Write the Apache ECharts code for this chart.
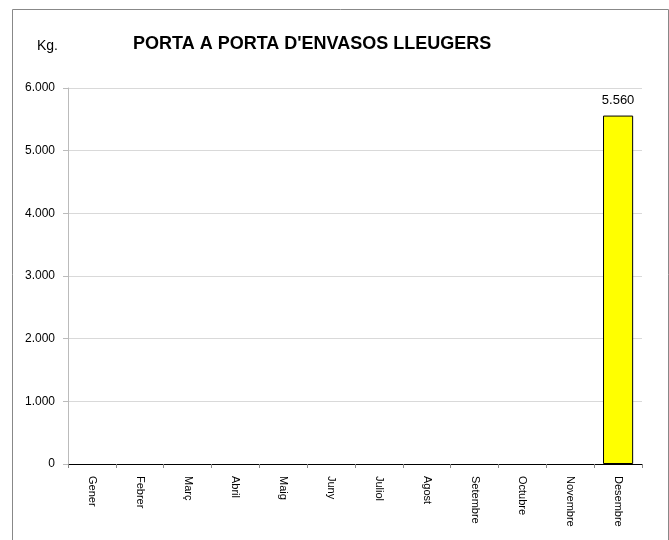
<!DOCTYPE html>
<html><head><meta charset="utf-8">
<script src="https://cdn.jsdelivr.net/npm/echarts@6/dist/echarts.min.js"></script>
<style>html,body{margin:0;padding:0;background:#fff}#c{width:669px;height:540px}</style>
</head><body><div id="c"></div>
<script>
const categories = ['Gener','Febrer','Març','Abril','Maig','Juny','Juliol','Agost','Setembre','Octubre','Novembre','Desembre'];
const values = [0,0,0,0,0,0,0,0,0,0,0,5560];
const yTicks = [0,1000,2000,3000,4000,5000,6000];
const fmt = v => String(v).replace(/\B(?=(\d{3})+(?!\d))/g, '.');
const chart = echarts.init(document.getElementById('c'));
chart.setOption({
  animation:false,
  graphic:[
    {type:'polyline', shape:{points:[[12.5,540],[12.5,9.5],[668.5,9.5],[668.5,540]]}, style:{stroke:'#888',fill:null,lineWidth:1}},
    {type:'text', left:37, top:39, style:{text:'Kg.', font:'14px "Liberation Sans", Arial', fill:'#000'}},
    {type:'text', left:133, top:35, style:{text:"PORTA A PORTA D'ENVASOS LLEUGERS", font:'bold 18px "Liberation Sans", Arial', fill:'#000'}}
  ],
  grid:{left:68, right:27, top:88, bottom:76},
  xAxis:{type:'category', data:categories,
    axisLine:{lineStyle:{color:'#000'}},
    axisTick:{show:true, length:4, lineStyle:{color:'#888'}},
    axisLabel:{rotate:-90, fontSize:11, fontFamily:'Arial', color:'#000', margin:12}},
  yAxis:{type:'value', min:yTicks[0], max:yTicks[yTicks.length-1], interval:1000,
    axisLine:{show:true, lineStyle:{color:'#bbb'}},
    axisTick:{show:true, length:5, lineStyle:{color:'#bbb'}},
    splitLine:{lineStyle:{color:'#d9d9d9'}},
    axisLabel:{fontSize:12, fontFamily:'Arial', color:'#000', margin:13, formatter:fmt}},
  series:[{type:'bar', barWidth:'63%',
    data: values.map(v => ({value:v, itemStyle:{borderWidth: v > 0 ? 1 : 0}})),
    itemStyle:{color:'#ffff00', borderColor:'#000', borderWidth:1},
    label:{show:true, position:'top', distance:9, fontSize:13, fontFamily:'Arial', color:'#000',
      formatter:p=>p.value>0?fmt(p.value):''}}]
});
</script></body></html>
